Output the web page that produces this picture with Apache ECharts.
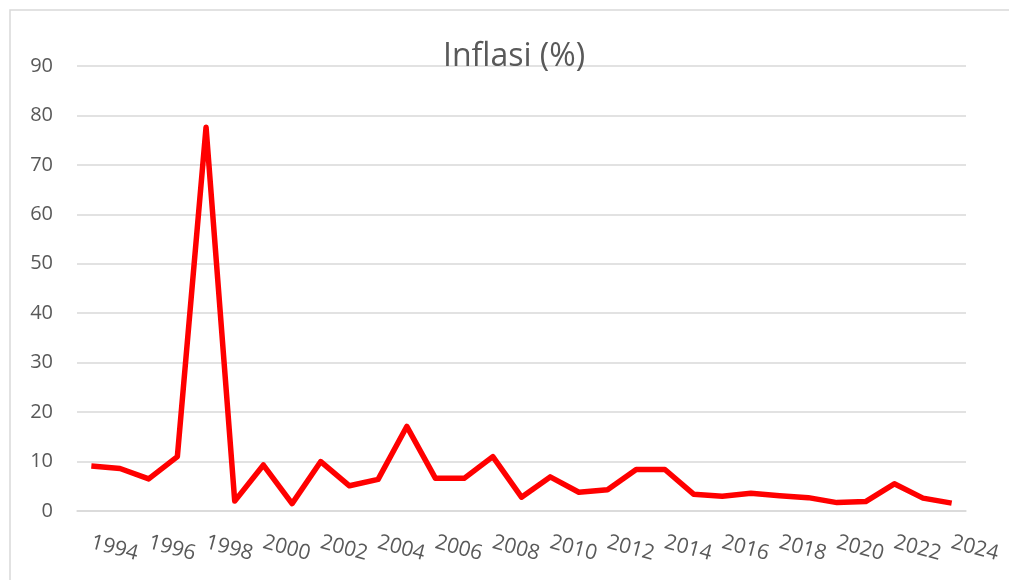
<!DOCTYPE html>
<html>
<head>
<meta charset="utf-8">
<script src="https://cdn.jsdelivr.net/npm/echarts@6/dist/echarts.min.js"></script>
<style>
  html, body { margin: 0; padding: 0; background: #fff; }
  #chart { width: 1009px; height: 580px; }
</style>
</head>
<body>
<div id="chart"></div>
<script>
var years = ['1994','1995','1996','1997','1998','1999','2000','2001','2002','2003',
             '2004','2005','2006','2007','2008','2009','2010','2011','2012','2013',
             '2014','2015','2016','2017','2018','2019','2020','2021','2022','2023','2024'];
var inflasi = [9.1, 8.6, 6.5, 11.0, 77.6, 2.0, 9.3, 1.5, 10.0, 5.1,
               6.4, 17.1, 6.6, 6.6, 11.0, 2.8, 6.9, 3.8, 4.3, 8.4,
               8.4, 3.4, 3.0, 3.6, 3.1, 2.7, 1.7, 1.9, 5.5, 2.6, 1.6];
var yTicks = [0, 90, 10]; // min, max, step

var myChart = echarts.init(document.getElementById('chart'));

option = {
    backgroundColor: '#fff',
    animation: false,
    title: {
        text: 'Inflasi (%)',
        left: 438,
        top: 36,
        textStyle: {
            fontFamily: 'Open Sans',
            fontSize: 32,
            fontWeight: 'normal',
            color: '#595959'
        }
    },
    graphic: [{
        type: 'rect',
        shape: { x: 10, y: 10, width: 1020, height: 600 },
        style: { fill: null, stroke: '#d9d9d9', lineWidth: 1.5 },
        silent: true
    }],
    grid: { left: 77, right: 43, top: 66, bottom: 69 },
    xAxis: {
        type: 'category',
        data: years,
        boundaryGap: true,
        axisLine: { lineStyle: { color: '#d9d9d9', width: 1.5 } },
        axisTick: { show: false },
        axisLabel: {
            interval: 1,
            rotate: -15,
            margin: 31,
            hideOverlap: false,
            fontFamily: 'Open Sans',
            fontSize: 21,
            color: '#595959'
        }
    },
    yAxis: {
        type: 'value',
        min: yTicks[0],
        max: yTicks[1],
        interval: yTicks[2],
        axisLine: { show: false },
        axisTick: { show: false },
        splitLine: { lineStyle: { color: '#d9d9d9', width: 1.5 } },
        axisLabel: {
            margin: 24,
            fontFamily: 'Open Sans',
            fontSize: 20,
            color: '#595959'
        }
    },
    series: [{
        type: 'line',
        data: inflasi,
        symbol: 'none',
        lineStyle: { color: '#ff0000', width: 5.5, join: 'round' },
        itemStyle: { color: '#ff0000' }
    }]
};

myChart.setOption(option);
</script>
</body>
</html>
